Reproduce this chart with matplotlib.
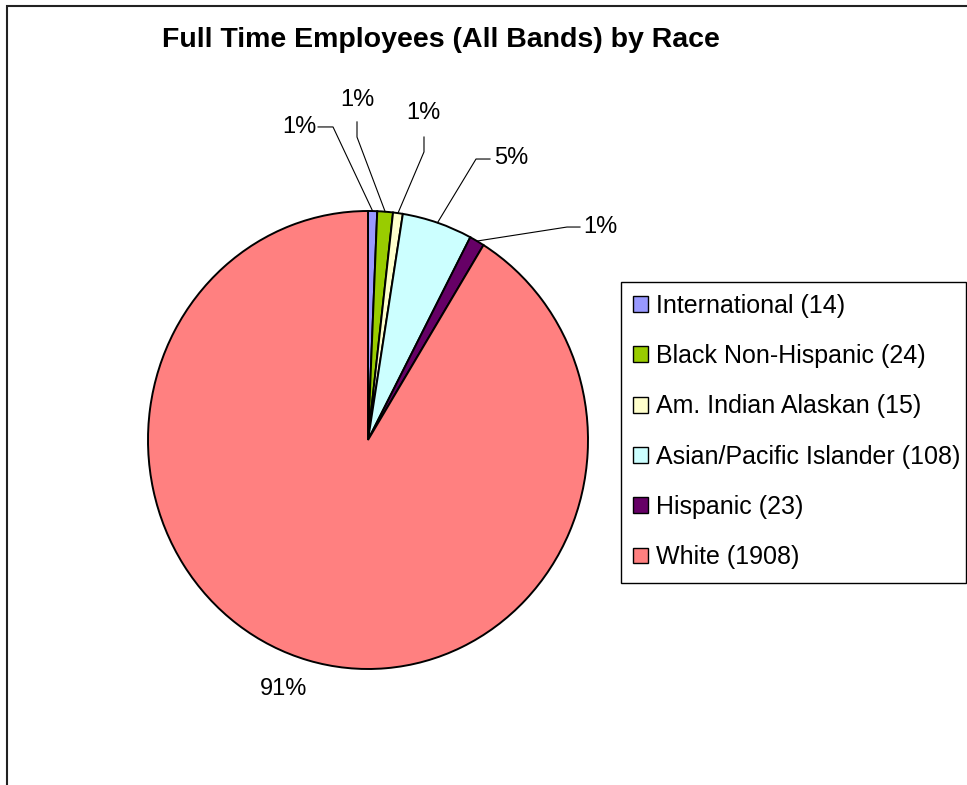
import numpy as np
import matplotlib
matplotlib.use("Agg")
import matplotlib.pyplot as plt
from matplotlib.patches import Rectangle

plt.rcParams['font.family'] = ['Liberation Sans', 'DejaVu Sans']

# data
races = ["International", "Black Non-Hispanic", "Am. Indian Alaskan",
         "Asian/Pacific Islander", "Hispanic", "White"]
counts = [14, 24, 15, 108, 23, 1908]
colors = ["#9999FF", "#99CC00", "#FFFFCC", "#CCFFFF", "#660066", "#FF8080"]

# label layout (data units of the pie axes): text centre, leader elbow
label_xy = [(-0.314, 1.367), (-0.05, 1.485), (0.25, 1.428),
            (0.65, 1.231), (1.055, 0.930), (-0.386, -1.087)]
leader_start = [(-0.227, 1.367), (-0.05, 1.389), (0.2545, 1.323),
                (0.5545, 1.227), (0.9636, 0.930), None]
leader_elbow = [(-0.159, 1.367), (-0.05, 1.323), (0.2545, 1.258),
                (0.491, 1.227), (0.9045, 0.930), None]

fig = plt.figure(figsize=(9.67, 7.85), dpi=100)
fig.patch.set_facecolor("white")

# chart area border (left and top edges visible)
fig.patches.append(Rectangle((7 / 967, -0.1), 1.2, 1.1 - 6 / 785,
                             transform=fig.transFigure, fill=False,
                             edgecolor="#222222", linewidth=1.5))

ax = fig.add_axes([148 / 967, (785 - 669) / 785, 440 / 967, 458 / 785])
wedges, _ = ax.pie(counts, colors=colors, startangle=90, counterclock=False,
                   radius=1,
                   wedgeprops=dict(edgecolor="black", linewidth=1.4,
                                   clip_on=False))
ax.set_aspect("auto")
ax.set_xlim(-1, 1)
ax.set_ylim(-1, 1)
ax.axis("off")

total = sum(counts)
for i, w in enumerate(wedges):
    pct = "%d%%" % round(counts[i] / total * 100)
    ax.text(label_xy[i][0], label_xy[i][1], pct, ha="center", va="center",
            fontsize=17, color="black", clip_on=False)
    if leader_start[i] is not None:
        mid = np.deg2rad((w.theta1 + w.theta2) / 2)
        ex, ey = np.cos(mid), np.sin(mid)
        xs = [leader_start[i][0], leader_elbow[i][0], ex]
        ys = [leader_start[i][1], leader_elbow[i][1], ey]
        ax.plot(xs, ys, color="black", linewidth=0.8, clip_on=False)

fig.text(441 / 967, 1 - 40 / 785, "Full Time Employees (All Bands) by Race",
         ha="center", va="center", fontsize=20.5, fontweight="bold")

# legend box
fig.patches.append(Rectangle((621 / 967, 1 - 583 / 785), 345 / 967, 301 / 785,
                             transform=fig.transFigure, facecolor="white",
                             edgecolor="black", linewidth=1.0, zorder=3))

labels = ["%s (%d)" % (r, c) for r, c in zip(races, counts)]
leg = fig.legend(wedges, labels, loc="upper left",
                 bbox_to_anchor=(633 / 967, 1 - 294 / 785),
                 fontsize=18, frameon=False, borderaxespad=0,
                 borderpad=0, handlelength=0.6, handleheight=0.6,
                 handletextpad=0.32, labelspacing=1.05)
leg.set_zorder(4)
for h in leg.legend_handles:
    h.set_linewidth(1.0)
    h.set_edgecolor("black")

fig.savefig("out.png", dpi=100)
